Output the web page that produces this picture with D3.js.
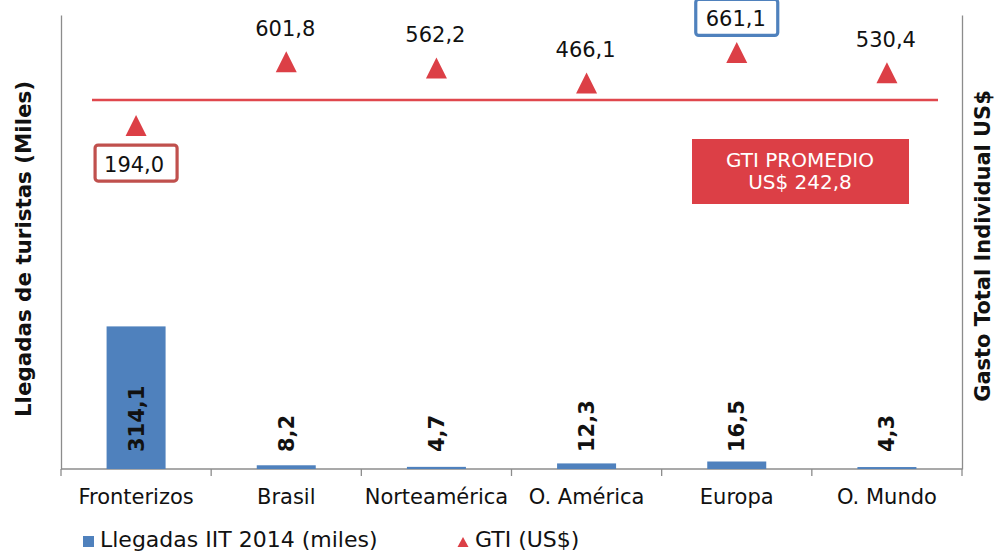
<!DOCTYPE html>
<html><head><meta charset="utf-8">
<script src="https://cdn.jsdelivr.net/npm/d3@7"></script>
<style>
html,body{margin:0;padding:0;background:#fff;}
svg{display:block;font-family:"DejaVu Sans",Verdana,sans-serif;}
</style></head>
<body>
<svg id="c" width="998" height="552"></svg>
<script>
// ---- data ----
const categories = ["Fronterizos","Brasil","Norteamérica","O. América","Europa","O. Mundo"];
const llegadas = [314.1, 8.2, 4.7, 12.3, 16.5, 4.3];
const gti = [194.0, 601.8, 562.2, 466.1, 661.1, 530.4];
const leftDomain = [0, 1000];
const rightDomain = [-2000, 900];
const lineaPromedioNivel = 357; // level of the red reference line on the GTI axis
const promedioTexto = ["GTI PROMEDIO", "US$ 242,8"];
const seriesNames = ["Llegadas IIT 2014 (miles)", "GTI (US$)"];
const axisTitles = ["Llegadas de turistas (Miles)", "Gasto Total Individual US$"];

const fmt = v => v.toFixed(1).replace(".", ",");

// ---- layout ----
const svg = d3.select("#c");
const L = 61, R = 962, T = 15, B = 469;
const x = d3.scaleBand().domain(categories).range([L, R]).padding(0);
const yL = d3.scaleLinear().domain(leftDomain).range([B, T]);
const yR = d3.scaleLinear().domain(rightDomain).range([B, T]);
const blue = "#4f81bd", red = "#dc3f46", axisCol = "#8c8c8c";
const FS = 21;

// axes
const xAxis = d3.axisBottom(x).tickSize(0).tickFormat("");
const gx = svg.append("g").attr("transform", `translate(0,${B})`).call(xAxis);
gx.select(".domain").attr("stroke", axisCol).attr("stroke-width", 1.3).attr("d", `M${L},0H${R}`);
// tick marks at category boundaries
const bounds = categories.map(c => x(c)).concat([R]);
svg.append("g").selectAll("line").data(bounds).join("line")
  .attr("x1", d => d).attr("x2", d => d).attr("y1", B).attr("y2", B + 7)
  .attr("stroke", axisCol).attr("stroke-width", 1.3);

const gl = svg.append("g").attr("transform", `translate(${L},0)`)
  .call(d3.axisLeft(yL).tickValues([]).tickSizeOuter(0));
gl.select(".domain").attr("stroke", axisCol).attr("stroke-width", 1.3);
const gr = svg.append("g").attr("transform", `translate(${R},0)`)
  .call(d3.axisRight(yR).tickValues([]).tickSizeOuter(0));
gr.select(".domain").attr("stroke", axisCol).attr("stroke-width", 1.3);

// category labels
svg.append("g").selectAll("text").data(categories).join("text")
  .attr("x", d => x(d) + x.bandwidth() / 2).attr("y", 504)
  .attr("text-anchor", "middle").attr("font-size", FS).attr("fill", "#111")
  .text(d => d);

// bars
const bw = 59;
svg.append("g").selectAll("rect").data(llegadas).join("rect")
  .attr("x", (d, i) => x(categories[i]) + x.bandwidth() / 2 - bw / 2)
  .attr("width", bw)
  .attr("y", d => yL(d)).attr("height", d => yL(0) - yL(d))
  .attr("fill", blue);

// bar labels (rotated)
svg.append("g").selectAll("text").data(llegadas).join("text")
  .attr("transform", (d, i) => `translate(${x(categories[i]) + x.bandwidth() / 2 + 7.5},${yL(0) - 17}) rotate(-90)`)
  .attr("font-size", FS).attr("font-weight", "bold").attr("fill", "#111")
  .text(d => fmt(d));

// reference line
svg.append("line").attr("x1", 92).attr("x2", 938)
  .attr("y1", yR(lineaPromedioNivel)).attr("y2", yR(lineaPromedioNivel))
  .attr("stroke", "#e0474d").attr("stroke-width", 2.5);

// triangles
const tri = (cx, cy, w, h) => `M${cx},${cy - h / 2}L${cx + w / 2},${cy + h / 2}L${cx - w / 2},${cy + h / 2}Z`;
svg.append("g").selectAll("path").data(gti).join("path")
  .attr("d", (d, i) => tri(x(categories[i]) + x.bandwidth() / 2, yR(d), 21, 21))
  .attr("fill", red);

// GTI labels
const minV = d3.min(gti), maxV = d3.max(gti);
gti.forEach((d, i) => {
  const cx = x(categories[i]) + x.bandwidth() / 2;
  const below = d === minV;
  const by = below ? yR(d) + 46.5 : yR(d) - 26;
  if (d === minV || d === maxV) {
    svg.append("rect")
      .attr("x", cx - 41).attr("width", 82)
      .attr("y", by - 27).attr("height", 36).attr("rx", 3)
      .attr("fill", "#fff")
      .attr("stroke", d === minV ? "#c0504d" : blue).attr("stroke-width", 3.2);
  }
  svg.append("text").attr("x", cx - (below ? 2 : 1)).attr("y", by)
    .attr("text-anchor", "middle").attr("font-size", FS).attr("fill", "#111")
    .text(fmt(d));
});

// promedio box
svg.append("rect").attr("x", 692).attr("y", 139).attr("width", 217).attr("height", 65).attr("fill", red);
svg.append("g").selectAll("text").data(promedioTexto).join("text")
  .attr("x", 800).attr("y", (d, i) => 167 + i * 22)
  .attr("text-anchor", "middle").attr("font-size", 20).attr("fill", "#fff")
  .text(d => d);

// axis titles
svg.append("text").attr("transform", `translate(31,249) rotate(-90)`)
  .attr("text-anchor", "middle").attr("font-size", 21.4).attr("font-weight", "bold").attr("fill", "#111")
  .text(axisTitles[0]);
svg.append("text").attr("transform", `translate(990,246) rotate(-90)`)
  .attr("text-anchor", "middle").attr("font-size", 21).attr("font-weight", "bold").attr("fill", "#111")
  .text(axisTitles[1]);

// legend
svg.append("rect").attr("x", 83).attr("y", 536).attr("width", 11).attr("height", 11).attr("fill", blue);
svg.append("text").attr("x", 100).attr("y", 547).attr("font-size", 22).attr("fill", "#111").text(seriesNames[0]);
svg.append("path").attr("d", tri(463, 542, 11, 10)).attr("fill", red);
svg.append("text").attr("x", 475).attr("y", 547).attr("font-size", 22).attr("fill", "#111").text(seriesNames[1]);
</script>
</body></html>
